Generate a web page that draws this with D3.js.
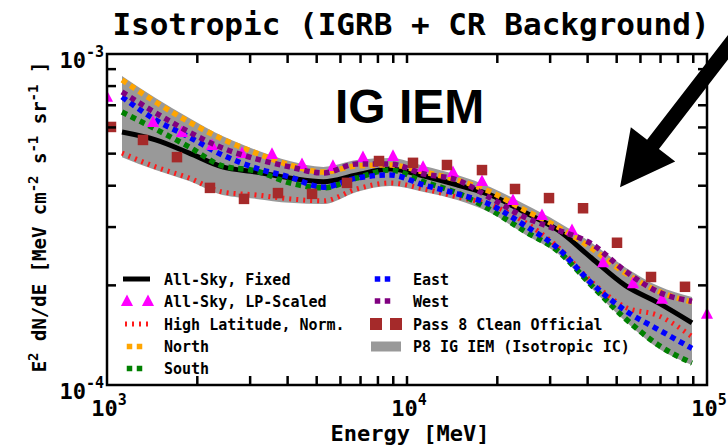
<!DOCTYPE html>
<html><head><meta charset="utf-8">
<script src="https://cdn.jsdelivr.net/npm/d3@7"></script>
<style>body{margin:0;background:#fff} svg{display:block}</style>
</head><body><svg id="c" width="728" height="446"></svg>
<script>
// ---- data (flux values in units of 1e-4 MeV cm^-2 s^-1 sr^-1) ----
const UNIT = 1e-4;
const modelEnergy = [1122,1452,1879,2427,3141,4064,5260,6792,8790,11380,14720,19010,24600,31840,41210,53330,68870,89130];
const allSkyFixed = [5.81,5.50,5.02,4.56,4.40,4.22,4.11,4.31,4.49,4.28,4.02,3.75,3.33,2.94,2.42,2.00,1.77,1.54];
const highLatNorm = [5.02,4.56,4.22,3.83,3.75,3.65,3.60,3.91,4.08,3.91,3.70,3.50,3.11,2.61,2.05,1.72,1.62,1.40];
const north = [8.35,7.16,6.23,5.53,5.02,4.62,4.40,4.59,4.62,4.40,4.16,3.83,3.38,3.00,2.59,2.18,1.92,1.78];
const south = [6.68,5.93,5.24,4.59,4.43,4.08,3.94,4.22,4.46,4.11,3.80,3.38,2.92,2.54,2.00,1.59,1.32,1.165];
const east  = [7.42,6.32,5.61,4.95,4.52,4.25,3.96,4.22,4.31,4.02,3.78,3.50,3.04,2.59,2.03,1.68,1.47,1.29];
const west  = [7.68,6.64,5.81,5.20,4.82,4.56,4.37,4.65,4.65,4.34,4.16,3.67,3.22,2.94,2.67,2.21,1.91,1.79];
const iemUpper = [8.58,7.36,6.41,5.65,5.13,4.75,4.56,4.78,4.85,4.59,4.31,3.96,3.52,3.11,2.69,2.27,1.99,1.845];
const iemLower = [4.88,4.46,4.13,3.75,3.65,3.55,3.52,3.83,3.99,3.83,3.62,3.31,2.86,2.49,1.96,1.56,1.29,1.15];
const lpEnergy = [1000,1424,1778,2239,2818,3548,4467,5665,7132,8981,11310,14230,17780,22550,28180,35480,45020,56660,70790,100000];
const lpScaled = [7.42,6.23,5.81,5.31,5.02,4.99,4.65,4.59,4.88,4.92,4.56,4.40,4.13,3.62,3.26,2.94,2.35,2.03,1.82,1.64];
const p8Energy = [1031,1318,1711,2204,2862,3715,4825,6310,8067,10470,13590,17780,22910,29740,38620,50120,65070,84460];
const p8Clean  = [6.02,5.50,4.88,3.94,3.65,3.80,3.78,4.08,4.75,4.69,4.62,4.46,3.91,3.67,3.42,2.69,2.12,1.98];
const xTickExponents = [3,4,5];
const yTickExponents = [-4,-3];
const titleText = "Isotropic (IGRB + CR Background)";
const xLabelText = "Energy [MeV]";
const insetText = "IG IEM";
const legendLeft = ["All-Sky, Fixed","All-Sky, LP-Scaled","High Latitude, Norm.","North","South"];
const legendRight = ["East","West","Pass 8 Clean Official","P8 IG IEM (Isotropic IC)"];
// arrow annotation in data coordinates [energy, flux/UNIT]
const arrowTail = [134000, 12.24];
const arrowTip = [51300, 3.96];

const MONO = "'DejaVu Sans Mono', monospace";
const svg = d3.select("#c");
const L = 107, R = 707, T = 54, B = 385;
const x = d3.scaleLog().domain([1e3,1e5]).range([L,R]);
const y = d3.scaleLog().domain([1e-4,1e-3]).range([B,T]);
const Y = v => y(v*UNIT);

svg.append("defs").append("clipPath").attr("id","clipL")
  .append("rect").attr("x",L).attr("y",0).attr("width",728-L).attr("height",446);

// band
const area = d3.area().x((d,i)=>x(modelEnergy[i])).y0((d,i)=>Y(iemLower[i])).y1((d,i)=>Y(iemUpper[i])).curve(d3.curveMonotoneX);
svg.append("path").datum(modelEnergy).attr("d",area).attr("fill","#999999");

const line = arr => d3.line().x((d,i)=>x(modelEnergy[i])).y((d,i)=>Y(arr[i])).curve(d3.curveMonotoneX)(arr);
function drawLine(arr, color, w, dash){
  const p = svg.append("path").attr("d",line(arr)).attr("fill","none").attr("stroke",color).attr("stroke-width",w);
  if(dash) p.attr("stroke-dasharray",dash);
  return p;
}
drawLine(allSkyFixed,"#000",5);
drawLine(highLatNorm,"#ff1a1a",5,"2,5");
drawLine(south,"#008000",5.5,"5.5,4.5");
drawLine(east,"#0000ff",5.5,"5.5,4.5");
drawLine(north,"#ffa500",5.5,"5.5,4.5");

const tri = (cx,cy,s)=>`M${cx},${cy-s*0.6}L${cx+s*0.55},${cy+s*0.45}L${cx-s*0.55},${cy+s*0.45}Z`;
svg.append("g").attr("clip-path","url(#clipL)").selectAll("path").data(lpScaled).join("path")
  .attr("d",(d,i)=>tri(x(lpEnergy[i]),Y(d),11)).attr("fill","#ff00ff");

drawLine(west,"#800080",5.5,"5.5,4.5");

svg.append("g").attr("clip-path","url(#clipL)").selectAll("rect").data(p8Clean).join("rect")
  .attr("x",(d,i)=>x(p8Energy[i])-5.25).attr("y",d=>Y(d)-5.25)
  .attr("width",10.5).attr("height",10.5).attr("fill","#a52a2a");

// frame
svg.append("rect").attr("x",L).attr("y",T).attr("width",R-L).attr("height",B-T)
  .attr("fill","none").attr("stroke","#000").attr("stroke-width",2.5);

// ticks
const xt = [];
for (let e=3;e<5;e++) for (let m=1;m<10;m++) if(!(e===3&&m===1)) xt.push(m*Math.pow(10,e));
const yt = [];
for (let m=2;m<10;m++) yt.push(m*1e-4);
const tl = 9;
const tk = svg.append("g").attr("stroke","#000").attr("stroke-width",2.5);
xt.forEach(v=>{
  tk.append("line").attr("x1",x(v)).attr("x2",x(v)).attr("y1",B).attr("y2",B-tl);
  tk.append("line").attr("x1",x(v)).attr("x2",x(v)).attr("y1",T).attr("y2",T+tl);
});
yt.forEach(v=>{
  tk.append("line").attr("y1",y(v)).attr("y2",y(v)).attr("x1",L).attr("x2",L+tl);
  tk.append("line").attr("y1",y(v)).attr("y2",y(v)).attr("x1",R).attr("x2",R-tl);
});

// tick labels
xTickExponents.forEach(e=>{
  const t = svg.append("text").attr("x",x(Math.pow(10,e))+2).attr("y",416)
    .attr("text-anchor","middle").attr("font-family",MONO).attr("font-weight","bold").attr("font-size",22);
  t.append("tspan").text("10");
  t.append("tspan").attr("dy",-11).attr("font-size",15).text(e);
});
yTickExponents.forEach(e=>{
  const t = svg.append("text").attr("x",L-3).attr("y",y(Math.pow(10,e))+14)
    .attr("text-anchor","end").attr("font-family",MONO).attr("font-weight","bold").attr("font-size",22);
  t.append("tspan").text("10");
  t.append("tspan").attr("dy",-11).attr("font-size",15).text(e);
});

// title & labels
svg.append("text").attr("x",411).attr("y",35).attr("text-anchor","middle")
  .attr("font-family",MONO).attr("font-weight","bold").attr("font-size",31).text(titleText);
svg.append("text").attr("x",410).attr("y",441).attr("text-anchor","middle")
  .attr("font-family",MONO).attr("font-weight","bold").attr("font-size",22).text(xLabelText);

const yl = svg.append("text").attr("transform","translate(46,217) rotate(-90)").attr("text-anchor","middle")
  .attr("font-family",MONO).attr("font-weight","bold").attr("font-size",19);
const parts = [["E",0],["2",1],[" dN/dE [MeV cm",0],["-2",1],[" s",0],["-1",1],[" sr",0],["-1",1],[" ]",0]];
let sup = false;
parts.forEach(([s,isSup])=>{
  const ts = yl.append("tspan").text(s);
  if(isSup && !sup){ ts.attr("dy",-8).attr("font-size",14); sup=true; }
  else if(isSup){ ts.attr("font-size",14); }
  else if(!isSup && sup){ ts.attr("dy",8); sup=false; }
});

svg.append("text").attr("x",335).attr("y",123).attr("font-family","'Liberation Sans', Arial, sans-serif")
  .attr("font-weight","bold").attr("font-size",48).text(insetText);

// arrow
(function(){
  const x0=x(arrowTail[0]), y0=Y(arrowTail[1]), x1=x(arrowTip[0]), y1=Y(arrowTip[1]);
  const dx=x1-x0, dy=y1-y0, len=Math.hypot(dx,dy), ux=dx/len, uy=dy/len, px=-uy, py=ux;
  const hl=54, hw=28, sw=7.5;
  const bx=x1-ux*hl, by=y1-uy*hl;
  const pts=[[x0+px*sw,y0+py*sw],[bx+px*sw,by+py*sw],[bx+px*hw,by+py*hw],[x1,y1],[bx-px*hw,by-py*hw],[bx-px*sw,by-py*sw],[x0-px*sw,y0-py*sw]];
  svg.append("path").attr("d","M"+pts.map(p=>p.join(",")).join("L")+"Z").attr("fill","#000");
})();

// legend
const rows = [279,301,324,346.5,368.5];
const lg = svg.append("g").attr("font-family",MONO).attr("font-weight","bold").attr("font-size",15);
legendLeft.forEach((s,i)=>lg.append("text").attr("x",164).attr("y",rows[i]+5.5).text(s));
legendRight.forEach((s,i)=>lg.append("text").attr("x",413).attr("y",rows[i]+5.5).text(s));
// left symbols
lg.append("line").attr("x1",123).attr("x2",150).attr("y1",rows[0]).attr("y2",rows[0]).attr("stroke","#000").attr("stroke-width",5);
[127,148].forEach(cx=>lg.append("path").attr("d",tri(cx,rows[1],11)).attr("fill","#ff00ff"));
lg.append("line").attr("x1",125).attr("x2",150).attr("y1",rows[2]).attr("y2",rows[2]).attr("stroke","#ff1a1a").attr("stroke-width",5).attr("stroke-dasharray","2,5");
[[rows[3],"#ffa500"],[rows[4],"#008000"]].forEach(([yy,c])=>[129.5,139.5].forEach(cx=>
  lg.append("rect").attr("x",cx-2.75).attr("y",yy-2.75).attr("width",5.5).attr("height",5.5).attr("fill",c)));
// right symbols
[[rows[0],"#0000ff"],[rows[1],"#800080"]].forEach(([yy,c])=>[377.5,387.5].forEach(cx=>
  lg.append("rect").attr("x",cx-2.75).attr("y",yy-2.75).attr("width",5.5).attr("height",5.5).attr("fill",c)));
[376,396].forEach(cx=>lg.append("rect").attr("x",cx-6).attr("y",rows[2]-6).attr("width",12).attr("height",12).attr("fill","#a52a2a"));
lg.append("rect").attr("x",371).attr("y",rows[3]-5).attr("width",30).attr("height",10).attr("fill","#999999");
</script></body></html>
